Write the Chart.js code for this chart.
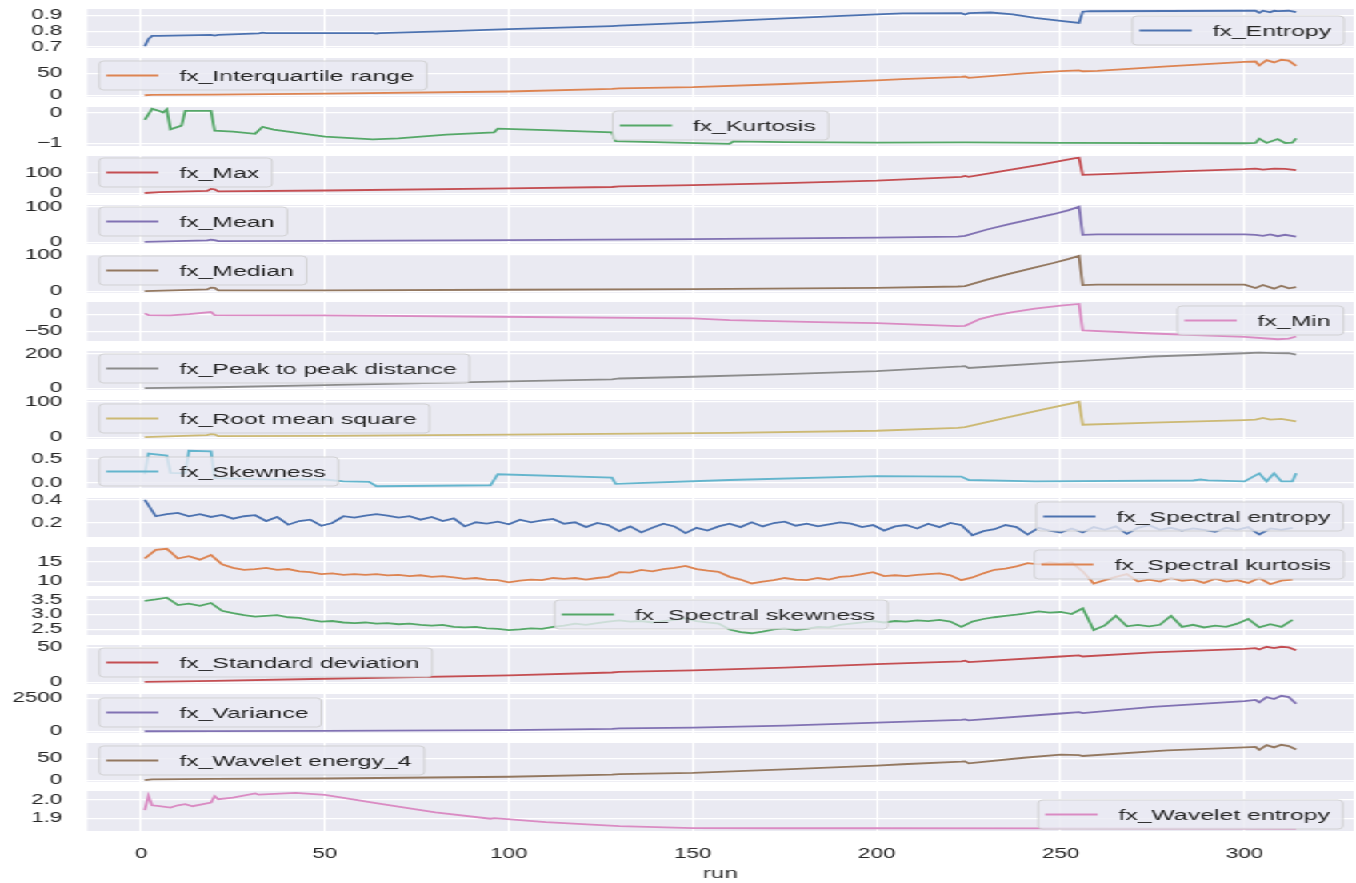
<!DOCTYPE html>
<html>
<head>
<meta charset="utf-8">
<script src="https://cdn.jsdelivr.net/npm/chart.js@4.4.1/dist/chart.umd.min.js"></script>
<style>
html, body { margin: 0; padding: 0; background: #fff; overflow: hidden; }
#stage { position: absolute; left: 0; top: 0; width: 847.5px; height: 883px; transform: scaleX(1.6); transform-origin: 0 0; }
.panel { position: absolute; left: 0; width: 847.5px; }
</style>
</head>
<body>
<div id="stage"></div>
<script>
/** Data **/

var seriesNames = ['fx_Entropy', 'fx_Interquartile range', 'fx_Kurtosis', 'fx_Max', 'fx_Mean', 'fx_Median',
	'fx_Min', 'fx_Peak to peak distance', 'fx_Root mean square', 'fx_Skewness', 'fx_Spectral entropy',
	'fx_Spectral kurtosis', 'fx_Spectral skewness', 'fx_Standard deviation', 'fx_Variance',
	'fx_Wavelet energy_4', 'fx_Wavelet entropy'];

var xTicks = [0, 50, 100, 150, 200, 250, 300];

//[run, value] pairs for the smooth series
var entropy = [[1,0.705],[2,0.75],[3,0.77],[5,0.77],[19,0.776],[20,0.772],[21,0.776],[32,0.786],[33,0.79],[34,0.788],
	[63,0.788],[64,0.785],[65,0.787],[84,0.80],[100,0.812],[128,0.832],[130,0.834],[150,0.853],[175,0.88],[200,0.905],
	[207,0.911],[223,0.913],[224,0.905],[225,0.913],[231,0.917],[237,0.905],[243,0.883],[250,0.865],[255,0.852],[256,0.922],
	[258,0.925],[300,0.928],[303,0.928],[304,0.915],[305,0.928],[307,0.918],[308,0.928],[309,0.926],[312,0.928],[314,0.919]];
var iqr = [[1,0.5],[3,1.5],[20,2],[50,4],[100,9],[128,15],[130,16],[150,19],[175,26],[200,34],[207,37],[223,42],[224,43],
	[225,40],[240,50],[250,55],[255,57],[256,55],[260,56],[279,66],[300,76],[303,77],[304,68],[306,80],[308,75],[310,81],
	[312,79],[314,67]];
var kurtosis = [[1,-0.23],[3,0.13],[5,0.06],[6,0.01],[7,0.11],[8,-0.54],[11,-0.42],[12,0.06],[19,0.06],[20,-0.59],[25,-0.62],
	[31,-0.69],[33,-0.46],[36,-0.55],[50,-0.78],[63,-0.87],[70,-0.84],[83,-0.72],[96,-0.64],[97,-0.52],[110,-0.57],[128,-0.64],
	[129,-0.93],[145,-0.98],[160,-1.02],[161,-0.94],[175,-0.96],[200,-0.98],[224,-0.97],[250,-0.99],[300,-1.0],[303,-0.99],
	[304,-0.85],[306,-0.99],[309,-0.86],[311,-0.99],[313,-0.98],[314,-0.84]];
var maxVals = [[1,2],[5,6],[18,12],[19,22],[20,20],[21,10],[50,14],[100,24],[128,31],[130,34],[150,40],[175,50],[200,62],
	[223,80],[224,84],[225,80],[235,110],[245,140],[254,170],[255,172],[256,90],[260,92],[280,105],[300,117],[303,120],
	[305,115],[308,120],[311,118],[314,112]];
var meanVals = [[1,1],[18,5],[19,7],[20,6],[21,3],[50,4],[100,6],[150,9],[200,13],[222,16],[224,18],[230,36],[236,51],
	[242,65],[248,79],[252,90],[255,100],[256,21],[260,22],[280,22],[300,22],[303,21],[305,18],[307,22],[309,17],[311,21],[314,16]];
var medianVals = [[1,0],[18,5],[19,10],[20,9],[21,2],[50,2],[100,4],[150,6],[200,9],[222,13],[224,14],[230,32],[236,48],
	[242,63],[248,78],[252,89],[255,98],[256,17],[260,18],[280,18],[300,18],[303,9],[305,17],[308,7],[310,15],[312,8],[314,11]];
var minVals = [[1,3],[2,-2],[8,-3],[13,1],[19,7],[20,-2],[49,-3],[97,-7],[150,-12],[160,-17],[184,-23],[200,-26],[222,-35],
	[224,-34],[226,-24],[228,-14],[232,-3],[237,7],[243,17],[250,26],[255,31],[256,-48],[275,-57],[300,-67],[309,-74],
	[312,-72],[314,-66]];
var peakToPeak = [[1,1],[20,6],[50,18],[100,40],[128,52],[130,57],[150,67],[175,82],[200,100],[223,127],[224,129],[225,118],
	[250,152],[256,160],[275,185],[300,204],[304,207],[308,205],[312,204],[314,196]];
var rms = [[1,1],[18,7],[19,10],[20,9],[21,4],[50,5],[100,8],[160,13],[200,19],[222,27],[224,29],[235,55],[245,78],[255,100],
	[256,36],[275,42],[300,49],[303,50],[305,55],[307,50],[310,52],[314,45]];
var skewness = [[1,0.18],[2,0.61],[7,0.57],[8,0.21],[12,0.2],[13,0.67],[19,0.66],[20,0.1],[30,0.08],[50,0.07],[55,0.03],
	[62,0.02],[64,-0.07],[80,-0.06],[95,-0.05],[97,0.18],[128,0.11],[129,-0.02],[160,0.06],[200,0.14],[223,0.13],[225,0.06],
	[243,0.03],[286,0.05],[288,0.07],[290,0.05],[300,0.03],[304,0.2],[306,0.03],[308,0.2],[310,0.03],[313,0.03],[314,0.2]];
var stdVals = [[1,0.5],[20,2],[50,5],[100,10],[128,14],[130,15],[150,17],[175,21],[200,26],[223,30],[224,31],[225,29],
	[250,37],[255,38.5],[256,37],[275,43],[300,48],[303,49],[304,47],[306,51],[308,49],[310,51],[312,50],[314,46]];
var variance = [[1,0],[20,5],[50,25],[100,90],[128,180],[130,210],[150,280],[175,430],[200,650],[223,870],[224,900],[225,830],
	[250,1350],[255,1450],[256,1380],[275,1850],[300,2300],[303,2380],[304,2200],[306,2600],[308,2450],[310,2700],[312,2600],[314,2100]];
var waveletEnergy = [[1,0],[3,2],[20,3],[50,4],[100,8],[128,13],[130,14],[150,17],[175,25],[200,34],[207,37],[223,43],
	[224,43.5],[225,39],[240,52],[250,59],[255,58],[256,56],[279,69],[300,76],[303,77],[304,70],[306,81],[308,76],[310,82],
	[312,79],[314,71]];
var waveletEntropy = [[1,1.944],[2,2.021],[3,1.97],[5,1.965],[8,1.958],[10,1.97],[12,1.976],[14,1.965],[19,1.985],[20,2.02],
	[21,2.003],[25,2.012],[31,2.035],[32,2.028],[42,2.038],[50,2.027],[63,1.985],[80,1.932],[95,1.897],[96,1.9],[110,1.878],
	[130,1.857],[150,1.846],[175,1.845],[200,1.845],[250,1.844],[300,1.843],[314,1.842]];

//noisy spectral series are read every third run
var stepRuns = [1,4,7,10,13,16,19,22,25,28,31,34,37,40,43,46,49,52,55,58,61,64,67,70,73,76,79,82,85,88,91,94,97,100,
	103,106,109,112,115,118,121,124,127,130,133,136,139,142,145,148,151,154,157,160,163,166,169,172,175,178,181,184,187,
	190,193,196,199,202,205,208,211,214,217,220,223,226,229,232,235,238,241,244,247,250,253,256,259,262,265,268,271,274,
	277,280,283,286,289,292,295,298,301,304,307,310,313];
var specEntropyVals = [0.40,0.256,0.274,0.285,0.256,0.274,0.25,0.268,0.235,0.256,0.265,0.214,0.25,0.182,0.214,0.226,0.173,
	0.197,0.256,0.244,0.262,0.274,0.262,0.244,0.256,0.226,0.25,0.214,0.238,0.167,0.203,0.191,0.208,0.185,0.226,0.203,0.22,
	0.232,0.191,0.203,0.161,0.197,0.179,0.126,0.167,0.114,0.155,0.191,0.167,0.108,0.155,0.131,0.167,0.191,
	0.161,0.203,0.167,0.197,0.208,0.173,0.191,0.167,0.185,0.203,0.191,0.161,0.179,0.131,0.167,0.179,0.149,0.191,0.161,0.197,
	0.179,0.09,0.126,0.143,0.179,0.161,0.096,0.155,0.131,0.114,0.149,0.114,0.161,0.137,0.167,0.102,0.155,0.179,0.137,0.155,
	0.131,0.149,0.137,0.12,0.155,0.137,0.161,0.096,0.149,0.137,0.155];
var specKurtosisVals = [15.9,18.1,18.4,15.9,16.5,15.6,16.8,14.4,13.5,13.0,13.2,13.5,13.0,13.2,12.6,12.4,11.9,12.1,11.7,11.9,
	11.7,11.9,11.6,11.7,11.4,11.6,11.2,11.4,11.05,10.7,10.9,10.5,10.35,9.8,10.2,10.5,10.35,10.9,10.7,10.9,10.5,10.9,11.2,12.4,
	12.3,13.0,12.6,13.2,13.5,14.0,13.2,12.8,12.5,11.2,
	10.5,9.5,10.0,10.35,10.9,10.5,10.35,10.9,10.5,11.2,11.4,11.9,12.4,11.4,11.6,11.4,11.7,11.9,12.1,11.6,10.35,11.05,12.1,
	13.0,13.3,13.9,14.7,14.4,14.9,14.6,14.9,12.6,9.5,10.35,11.2,11.9,10.0,10.5,10.0,10.9,10.2,10.5,9.65,10.7,10.0,10.35,9.65,
	10.9,9.3,10.2,10.5];
var specSkewnessVals = [3.47,3.52,3.58,3.33,3.38,3.30,3.40,3.13,3.05,2.98,2.93,2.96,2.98,2.91,2.89,2.82,2.76,2.78,2.73,2.71,
	2.73,2.69,2.71,2.67,2.69,2.65,2.62,2.65,2.58,2.56,2.58,2.53,2.51,2.47,2.49,2.53,2.51,2.58,2.62,2.69,2.65,2.71,2.76,2.80,
	2.76,2.78,2.73,2.78,2.82,2.87,2.78,2.73,2.69,2.49,
	2.40,2.36,2.42,2.49,2.53,2.47,2.51,2.58,2.56,2.65,2.69,2.73,2.78,2.73,2.78,2.76,2.80,2.78,2.82,2.76,2.58,2.76,2.85,2.91,
	2.96,3.00,3.05,3.11,3.07,3.09,3.02,3.22,2.47,2.63,2.96,2.60,2.65,2.60,2.65,2.96,2.58,2.65,2.56,2.62,2.58,2.69,2.85,2.56,
	2.67,2.58,2.82];

//axis limits and ticks of each panel
var yMin = [0.694, -3.5, -1.09, -7.6, -5, -5, -79.3, -10, -4, -0.107, 0.0745, 8.85, 2.30, -2.55, -135, -4.1, 1.83];
var yMax = [0.939, 85, 0.19, 180.6, 105, 103, 36.9, 217, 105, 0.707, 0.4155, 18.85, 3.64, 53.55, 2835, 86.1, 2.048];
var yTicks = [[0.7,0.8,0.9],[0,50],[-1,0],[0,100],[0,100],[0,100],[-50,0],[0,200],[0,100],[0,0.5],[0.2,0.4],[10,15],
	[2.5,3.0,3.5],[0,50],[0,2500],[0,50],[1.9,2.0]];
var yTickLabels = [['0.7','0.8','0.9'],['0','50'],['\u22121','0'],['0','100'],['0','100'],['0','100'],['\u221250','0'],
	['0','200'],['0','100'],['0.0','0.5'],['0.2','0.4'],['10','15'],['2.5','3.0','3.5'],['0','50'],['0','2500'],['0','50'],
	['1.9','2.0']];

/** Look and layout **/

var colors = ['#4c72b0','#dd8452','#55a868','#c44e52','#8172b3','#937860','#da8bc3','#8c8c8c','#ccb974','#64b5cd',
	'#4c72b0','#dd8452','#55a868','#c44e52','#8172b3','#937860','#da8bc3'];
//legend box corner in page pixels [left, top]
var legendPos = [[1131,16],[99,61],[612,111],[99,158],[99,207],[99,256],[1176,306],[99,354],[99,404],[99,457],
	[1035,502],[1033,550],[554,600],[99,648],[99,698],[99,746],[1037,800]];

var SX = 1.6;            //the picture is stretched horizontally
var STAGE_W = 847.5;
var PLOT_LEFT = 54.4, PLOT_RIGHT = 845;
var PAD = 12;
var PANEL_H = 39;
var X_MIN = -14.65, X_MAX = 329.65;
var TEXT = '#262626';
var FONT = 'Liberation Sans, Arial, sans-serif';

function toPoints(pairs) {
	return pairs.map(function(p) { return {x: p[0], y: p[1]}; });
}
function zipPoints(runs, vals) {
	return runs.map(function(r, k) { return {x: r, y: vals[k]}; });
}

var allSeries = [
	toPoints(entropy), toPoints(iqr), toPoints(kurtosis), toPoints(maxVals), toPoints(meanVals), toPoints(medianVals),
	toPoints(minVals), toPoints(peakToPeak), toPoints(rms), toPoints(skewness), zipPoints(stepRuns, specEntropyVals),
	zipPoints(stepRuns, specKurtosisVals), zipPoints(stepRuns, specSkewnessVals), toPoints(stdVals), toPoints(variance),
	toPoints(waveletEnergy), toPoints(waveletEntropy)
];

//grey plot background
var bgPlugin = {
	id: 'panelBg',
	beforeDraw: function(chart) {
		var a = chart.chartArea, ctx = chart.ctx;
		ctx.save();
		ctx.fillStyle = '#eaeaf2';
		ctx.fillRect(a.left, a.top, a.right - a.left, a.bottom - a.top);
		ctx.restore();
	}
};

//matplotlib style legend box inside the plot
var legendPlugin = {
	id: 'panelLegend',
	afterDatasetsDraw: function(chart, args, opts) {
		var ctx = chart.ctx;
		var x0 = opts.left / SX, y0 = opts.top - opts.divTop;
		ctx.save();
		ctx.font = '15.5px ' + FONT;
		var w = 50 + ctx.measureText(opts.text).width + 8, h = 29;
		ctx.beginPath();
		ctx.roundRect(x0, y0, w, h, 3);
		ctx.fillStyle = 'rgba(234,234,242,0.8)';
		ctx.fill();
		ctx.strokeStyle = 'rgba(204,204,204,0.8)';
		ctx.lineWidth = 1;
		ctx.stroke();
		ctx.beginPath();
		ctx.moveTo(x0 + 4.4, y0 + h / 2);
		ctx.lineTo(x0 + 37, y0 + h / 2);
		ctx.strokeStyle = opts.color;
		ctx.lineWidth = 1.8;
		ctx.stroke();
		ctx.fillStyle = TEXT;
		ctx.textBaseline = 'middle';
		ctx.fillText(opts.text, x0 + 50, y0 + h / 2 + 1);
		ctx.restore();
	}
};

function makePanel(i) {
	var last = i === allSeries.length - 1;
	var top = Math.round(9 + i * 48.9);
	var divTop = top - PAD;
	var divH = last ? (883 - divTop) : (PANEL_H + 2 * PAD);

	var div = document.createElement('div');
	div.className = 'panel';
	div.style.top = divTop + 'px';
	div.style.height = divH + 'px';
	var canvas = document.createElement('canvas');
	div.appendChild(canvas);
	document.getElementById('stage').appendChild(div);

	new Chart(canvas, {
		type: 'line',
		data: {
			datasets: [{
				data: allSeries[i],
				borderColor: colors[i],
				borderWidth: 1.8,
				pointRadius: 0,
				tension: 0,
				fill: false
			}]
		},
		options: {
			responsive: true,
			maintainAspectRatio: false,
			animation: false,
			events: [],
			layout: {padding: {top: PAD, bottom: last ? 0 : PAD, left: 0, right: STAGE_W - PLOT_RIGHT}},
			plugins: {
				legend: {display: false},
				tooltip: {enabled: false},
				panelLegend: {text: seriesNames[i], color: colors[i], left: legendPos[i][0], top: legendPos[i][1], divTop: divTop}
			},
			scales: {
				x: {
					type: 'linear',
					min: X_MIN,
					max: X_MAX,
					afterBuildTicks: function(s) { s.ticks = xTicks.map(function(v) { return {value: v}; }); },
					afterFit: function(s) {
						s.height = last ? 52 : 0;
						s.paddingLeft = 0;
						s.paddingRight = 0;
					},
					grid: {color: '#ffffff', lineWidth: 1.25, drawTicks: false},
					border: {display: false},
					ticks: {display: last, padding: 15, autoSkip: false, maxRotation: 0, color: TEXT,
						font: {family: FONT, size: 14}},
					title: {display: last, text: 'run', color: TEXT, padding: {top: 0, bottom: 0},
						font: {family: FONT, size: 15}}
				},
				y: {
					min: yMin[i],
					max: yMax[i],
					afterBuildTicks: function(s) { s.ticks = yTicks[i].map(function(v) { return {value: v}; }); },
					afterFit: function(s) {
						s.width = PLOT_LEFT;
						s.paddingTop = 0;
						s.paddingBottom = 0;
					},
					grid: {color: '#ffffff', lineWidth: 1.2, drawTicks: false},
					border: {display: false},
					ticks: {
						padding: 15.5,
						autoSkip: false,
						color: TEXT,
						font: {family: FONT, size: 14},
						callback: function(value, index) { return yTickLabels[i][index]; }
					}
				}
			}
		},
		plugins: [bgPlugin, legendPlugin]
	});
}

for (var i = 0; i < allSeries.length; i++) {
	makePanel(i);
}
</script>
</body>
</html>
